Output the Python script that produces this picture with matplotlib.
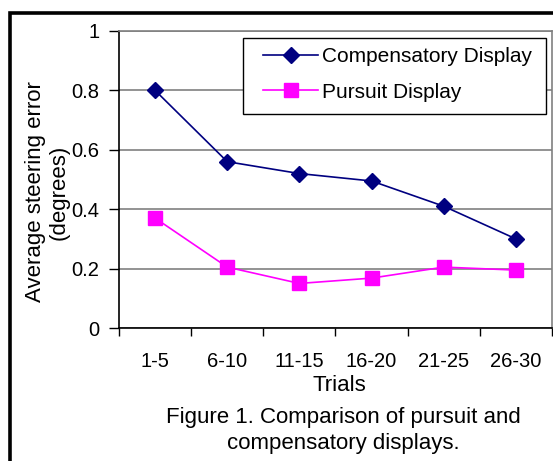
import numpy as np
import matplotlib.pyplot as plt
from matplotlib.patches import Rectangle

plt.rcParams['font.family'] = ['Liberation Sans', 'DejaVu Sans']

# data
trials = ['1-5', '6-10', '11-15', '16-20', '21-25', '26-30']
compensatory = [0.80, 0.56, 0.52, 0.495, 0.41, 0.30]
pursuit = [0.37, 0.205, 0.15, 0.168, 0.205, 0.195]

fig = plt.figure(figsize=(5.53, 4.61), dpi=100)
W, H = 553.0, 461.0

# plot area placed in pixel terms
ax = fig.add_axes([119 / W, 1 - 328 / H, 433 / W, 297 / H])

x = np.arange(len(trials))
ax.plot(x, compensatory, color='#000080', lw=1.2, marker='D', ms=8,
        mfc='#000080', mec='#000080', label='Compensatory Display', zorder=3)
ax.plot(x, pursuit, color='#ff00ff', lw=1.2, marker='s', ms=10,
        mfc='#ff00ff', mec='#ff00ff', label='Pursuit Display', zorder=3)

ax.set_xlim(-0.5, len(trials) - 0.5)
ax.set_ylim(0, 1)

# y axis
ax.set_yticks([0, 0.2, 0.4, 0.6, 0.8, 1.0])
ax.set_yticklabels(['0', '0.2', '0.4', '0.6', '0.8', '1'], fontsize=14.5)
ax.yaxis.grid(True, color='#808080', lw=1.2)
ax.tick_params(axis='y', direction='out', length=7, width=1, pad=7)

# x axis: labels at centres, tick marks between categories
ax.set_xticks(x)
ax.set_xticklabels(trials, fontsize=14.5)
ax.set_xticks(np.arange(-0.5, len(trials)), minor=True)
ax.tick_params(axis='x', which='major', length=0, pad=17)
ax.tick_params(axis='x', which='minor', direction='out', length=6, width=1)

for s in ['left', 'bottom']:
    ax.spines[s].set_color('black')
    ax.spines[s].set_linewidth(1.2)
for s in ['top', 'right']:
    ax.spines[s].set_color('#808080')
    ax.spines[s].set_linewidth(1.2)
ax.set_axisbelow(True)

# legend: entries without frame, white box drawn separately behind them
box = Rectangle((243 / W, 1 - 114 / H), 303 / W, 76 / H,
                transform=fig.transFigure, facecolor='white',
                edgecolor='black', lw=1.0, zorder=4, clip_on=False)
ax.add_artist(box)
leg = ax.legend(loc='upper left', bbox_to_anchor=(263 / W, 1 - 47 / H),
                bbox_transform=fig.transFigure, borderaxespad=0, borderpad=0,
                frameon=False, fontsize=15, handlelength=2.64,
                handletextpad=0.2, labelspacing=0.8)
leg.set_zorder(5)

# axis titles and caption
fig.text(47 / W, 1 - 192 / H, 'Average steering error\n(degrees)', rotation=90,
         ha='center', va='center', fontsize=16, multialignment='center',
         linespacing=1.15)
fig.text(339 / W, 1 - 391 / H, 'Trials', ha='center', va='baseline', fontsize=16)
fig.text(343 / W, 1 - 423 / H, 'Figure 1. Comparison of pursuit and',
         ha='center', va='baseline', fontsize=16)
fig.text(343 / W, 1 - 449 / H, 'compensatory displays.',
         ha='center', va='baseline', fontsize=16)

# black frame around the figure
fig.patches.append(Rectangle((10 / W, -0.1), 1.2, 1 - 13 / H + 0.1,
                             transform=fig.transFigure, fill=False,
                             edgecolor='black', lw=2.6, clip_on=False))

fig.savefig('out.png', dpi=100)
